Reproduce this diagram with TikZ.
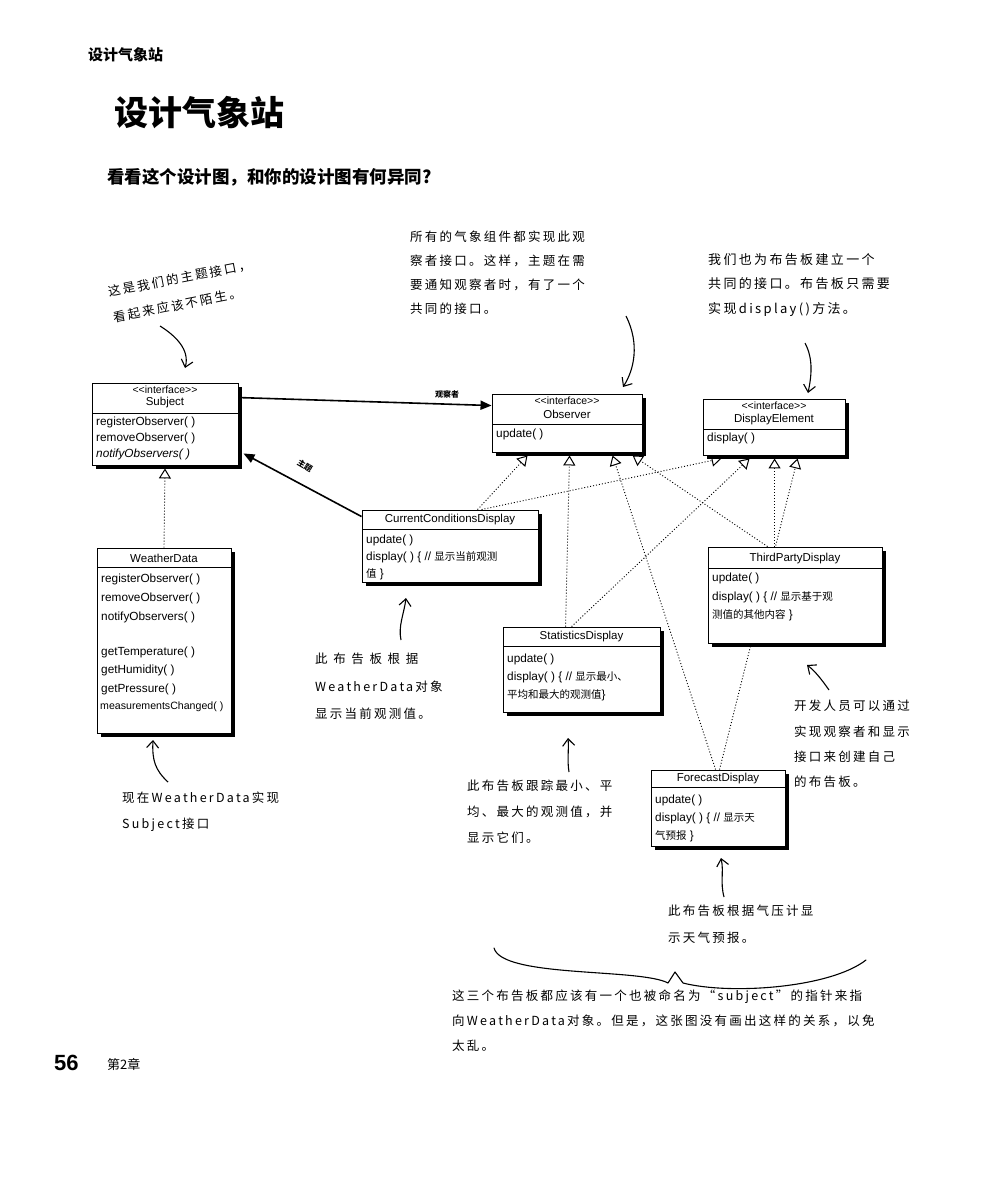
\documentclass[tikz,border=0pt]{standalone}
\usepackage{fontspec}
\setmainfont{Liberation Sans}
\newfontfamily\cjk{Noto Sans CJK SC}
\newfontfamily\hand[LetterSpace=18]{Noto Sans CJK SC}
\newfontfamily\handw[LetterSpace=45]{Noto Sans CJK SC}
\usetikzlibrary{arrows.meta,shadows}
\pgfdeclarelayer{paper}
\pgfdeclarelayer{links}
\pgfsetlayers{paper,links,main}
\newcommand{\stereotxt}{{<}{<}interface{>}{>}}
\tikzset{
  umlbox/.style={draw=black, line width=0.9pt, fill=white, inner sep=0pt,
    general shadow={fill=black, shadow xshift=3.5pt, shadow yshift=-3.5pt}},
  stereo/.style={font=\fontsize{10.5}{12}\selectfont, inner sep=0pt},
  cname/.style={font=\fontsize{11.5}{13}\selectfont, inner sep=0pt},
  meth/.style={font=\fontsize{11.8}{14}\selectfont, anchor=west, inner sep=0pt},
  sepline/.style={line width=0.7pt},
  realize/.style={dash pattern=on 1pt off 2pt, line width=0.9pt,
    -{Triangle[open, length=10pt, width=12pt, line width=1pt]}},
  assoc/.style={line width=1.6pt, -{Triangle[length=11pt, width=9pt]}},
  note/.style={font=\hand\fontsize{12.5}{24}\selectfont, align=left, inner sep=0pt, anchor=north west},
  notearrow/.style={line width=1.1pt, -{Straight Barb[length=7pt, width=12pt, line width=1.1pt]}},
  cjklabel/.style={font=\cjk\bfseries\fontsize{8}{9}\selectfont, inner sep=0pt},
}
\newcommand{\uc}[1]{{\cjk\fontsize{10.5}{12}\selectfont #1}}
\begin{document}
\begin{tikzpicture}[x=1pt,y=-1pt]
\useasboundingbox (0,0) rectangle (983,1182);
\begin{pgfonlayer}{paper}
  \fill[white] (0,0) rectangle (983,1182);
\end{pgfonlayer}

% ---------- headings ----------
\node[font=\cjk\bfseries\fontsize{15}{16}\selectfont, anchor=west, inner sep=0pt] (hdr) at (88,55) {设计气象站};
\node[font=\cjk\bfseries\fontsize{34}{38}\selectfont, anchor=west, inner sep=0pt] (title) at (114,113) {设计气象站};
\node[font=\cjk\bfseries\fontsize{17.5}{20}\selectfont, anchor=west, inner sep=0pt] (subtitle) at (107,177) {看看这个设计图，和你的设计图有何异同?};

% ---------- Subject ----------
\node[umlbox, minimum width=146pt, minimum height=82pt] (subject) at (165,424) {};
\node[stereo] (subjst) at (165,390) {\stereotxt};
\node[cname] (subjnm) at (165,403) {Subject};
\draw[sepline] (92,413) -- (238,413);
\node[meth] (subjm1) at (96,422) {registerObserver( )};
\node[meth] (subjm2) at (96,438) {removeObserver( )};
\node[meth] (subjm3) at (96,454) {\itshape notifyObservers( )};

% ---------- Observer ----------
\node[umlbox, minimum width=150pt, minimum height=58pt] (obs) at (567,423) {};
\node[stereo] (obsst) at (567,401) {\stereotxt};
\node[cname] (obsnm) at (567,414) {Observer};
\draw[sepline] (492,424) -- (642,424);
\node[meth] (obsm1) at (496,434) {update( )};

% ---------- DisplayElement ----------
\node[umlbox, minimum width=142pt, minimum height=56pt] (disp) at (774,427) {};
\node[stereo] (dispst) at (774,406) {\stereotxt};
\node[cname] (dispnm) at (774,420) {DisplayElement};
\draw[sepline] (703,429) -- (845,429);
\node[meth] (dispm1) at (707,438) {display( )};

% ---------- CurrentConditionsDisplay ----------
\node[umlbox, minimum width=176pt, minimum height=72pt] (ccd) at (450,546) {};
\node[cname] (ccdnm) at (450,520) {CurrentConditionsDisplay};
\draw[sepline] (362,529) -- (538,529);
\node[meth] (ccdm1) at (366,540) {update( )};
\node[meth] (ccdm2) at (366,557) {display( ) \{ // \uc{显示当前观测}};
\node[meth] (ccdm3) at (366,574) {\uc{值} \}};

% ---------- WeatherData ----------
\node[umlbox, minimum width=134pt, minimum height=185pt] (wd) at (164,640.5) {};
\node[cname] (wdnm) at (164,558) {WeatherData};
\draw[sepline] (97,567) -- (231,567);
\node[meth] (wdm1) at (101,579) {registerObserver( )};
\node[meth] (wdm2) at (101,598) {removeObserver( )};
\node[meth] (wdm3) at (101,617) {notifyObservers( )};
\node[meth] (wdm4) at (101,652) {getTemperature( )};
\node[meth] (wdm5) at (101,670) {getHumidity( )};
\node[meth] (wdm6) at (101,689) {getPressure( )};
\node[meth, font=\fontsize{10.6}{12}\selectfont] (wdm7) at (100,707) {measurementsChanged( )};

% ---------- ThirdPartyDisplay ----------
\node[umlbox, minimum width=174pt, minimum height=96pt] (tpd) at (795,595) {};
\node[cname] (tpdnm) at (795,559) {ThirdPartyDisplay};
\draw[sepline] (708,568) -- (882,568);
\node[meth] (tpdm1) at (712,578) {update( )};
\node[meth] (tpdm2) at (712,597) {display( ) \{ // \uc{显示基于观}};
\node[meth] (tpdm3) at (712,615) {\uc{测值的其他内容} \}};

% ---------- StatisticsDisplay ----------
\node[umlbox, minimum width=157pt, minimum height=85pt] (stat) at (581.5,669.5) {};
\node[cname] (statnm) at (581.5,637) {StatisticsDisplay};
\draw[sepline] (503,646) -- (660,646);
\node[meth] (statm1) at (507,659) {update( )};
\node[meth] (statm2) at (507,677) {display( ) \{ // \uc{显示最小、}};
\node[meth] (statm3) at (507,695) {\uc{平均和最大的观测值}\}};

% ---------- ForecastDisplay ----------
\node[umlbox, minimum width=134pt, minimum height=76pt] (fcd) at (718,808) {};
\node[cname] (fcdnm) at (718,779) {ForecastDisplay};
\draw[sepline] (651,787) -- (785,787);
\node[meth] (fcdm1) at (655,800) {update( )};
\node[meth] (fcdm2) at (655,818) {display( ) \{ // \uc{显示天}};
\node[meth] (fcdm3) at (655,836) {\uc{气预报} \}};

% ---------- connectors ----------
\begin{pgfonlayer}{links}
  % associations
  \draw[assoc] ([yshift=-15pt]subject.north east) -- ([yshift=-12pt]obs.north west);
  \draw[assoc] ([yshift=-7pt]ccd.north west) -- ([xshift=5pt,yshift=12pt]subject.south east);
  % WeatherData realizes Subject
  \draw[realize] (wd.north) -- ([yshift=-3pt]subject.south);
  % realizations of Observer
  \draw[realize] ([xshift=116pt]ccd.north west) -- ([xshift=36pt,yshift=-3pt]obs.south west);
  \draw[realize] ([xshift=63pt]stat.north west) -- ([xshift=78pt,yshift=-3pt]obs.south west);
  \draw[realize] ([xshift=65pt]fcd.north west) -- ([xshift=121pt,yshift=-3pt]obs.south west);
  \draw[realize] ([xshift=60pt]tpd.north west) -- ([xshift=141pt,yshift=-3pt]obs.south west);
  % realizations of DisplayElement
  \draw[realize] ([xshift=120pt]ccd.north west) -- ([xshift=19pt,yshift=-3pt]disp.south west);
  \draw[realize] ([xshift=69pt]stat.north west) -- ([xshift=47pt,yshift=-3pt]disp.south west);
  \draw[realize] ([xshift=67pt]tpd.north west) -- ([xshift=72pt,yshift=-3pt]disp.south west);
  \draw[realize] ([xshift=69pt]fcd.north west) -- ([xshift=95pt,yshift=-3pt]disp.south west);
\end{pgfonlayer}

\node[cjklabel] (lblobs) at (447,394) {观察者};
\node[cjklabel, rotate=-30] (lblsubj) at (305,466) {主题};

% ---------- notes ----------
\node[font=\hand\fontsize{12.5}{26}\selectfont, align=left, inner sep=0pt, rotate=11] (n1) at (182,291)
  {这是我们的主题接口，\\看起来应该不陌生。};
\node[note] (n2) at (410,231)
  {所有的气象组件都实现此观\\察者接口。这样，主题在需\\要通知观察者时，有了一个\\共同的接口。};
\node[note, font=\hand\fontsize{13}{24.5}\selectfont] (n3) at (708,253)
  {我们也为布告板建立一个\\共同的接口。布告板只需要\\实现display()方法。};
\node[note, font=\hand\fontsize{12.5}{27.5}\selectfont] (n4) at (315,653)
  {{\handw 此布告板根据}\\WeatherData对象\\显示当前观测值。};
\node[note, font=\hand\fontsize{12.5}{26}\selectfont] (n5) at (122,792)
  {现在WeatherData实现\\Subject接口};
\node[note, font=\hand\fontsize{12.5}{26}\selectfont] (n6) at (467,780)
  {此布告板跟踪最小、平\\均、最大的观测值，并\\显示它们。};
\node[note, font=\hand\fontsize{12.5}{25.3}\selectfont] (n7) at (794,700)
  {开发人员可以通过\\实现观察者和显示\\接口来创建自己\\的布告板。};
\node[note, font=\hand\fontsize{12.5}{27}\selectfont] (n8) at (668,905)
  {此布告板根据气压计显\\示天气预报。};
\node[note, font=\hand\fontsize{12.5}{25}\selectfont] (n9) at (452,990)
  {这三个布告板都应该有一个也被命名为“subject”的指针来指\\向WeatherData对象。但是，这张图没有画出这样的关系，以免\\太乱。};

% ---------- note arrows ----------
\coordinate (a1s) at (160,326); \coordinate (a1e) at (185,368);
\draw[notearrow] (a1s) .. controls (176,336) and (190,350) .. (a1e);
\coordinate (a2s) at (626,316); \coordinate (a2e) at (623,387);
\draw[notearrow] (a2s) .. controls (640,344) and (634,370) .. (a2e);
\coordinate (a3s) at (805,343); \coordinate (a3e) at (808,393);
\draw[notearrow] (a3s) .. controls (814,360) and (811,378) .. (a3e);
\coordinate (a4s) at (401,640); \coordinate (a4e) at (406,598);
\draw[notearrow] (a4s) .. controls (398,626) and (404,614) .. (a4e);
\coordinate (a5s) at (168,782); \coordinate (a5e) at (153,740);
\draw[notearrow] (a5s) .. controls (155,770) and (152,760) .. (a5e);
\coordinate (a6s) at (569,772); \coordinate (a6e) at (568,738);
\draw[notearrow] (a6s) .. controls (567,760) and (569,750) .. (a6e);
\coordinate (a7s) at (829,690); \coordinate (a7e) at (807,665);
\draw[notearrow] (a7s) .. controls (822,680) and (815,671) .. (a7e);
\coordinate (a8s) at (724,897); \coordinate (a8e) at (721,858);
\draw[notearrow] (a8s) .. controls (720,882) and (724,872) .. (a8e);

% ---------- brace ----------
\coordinate (brl) at (494,948); \coordinate (brt) at (675,972); \coordinate (brr) at (866,960);
\draw[line width=1.1pt, line cap=round, line join=round]
  (brl) .. controls (502,978) and (640,968) .. (668,983) -- (brt) -- (683,983)
  .. controls (730,995) and (830,988) .. (brr);

% ---------- footer ----------
\node[font=\bfseries\fontsize{22}{24}\selectfont, anchor=west, inner sep=0pt] (pgno) at (54,1063) {56};
\node[font=\cjk\fontsize{13}{15}\selectfont, anchor=west, inner sep=0pt] (chap) at (107,1064) {第2章};
\end{tikzpicture}
\end{document}
